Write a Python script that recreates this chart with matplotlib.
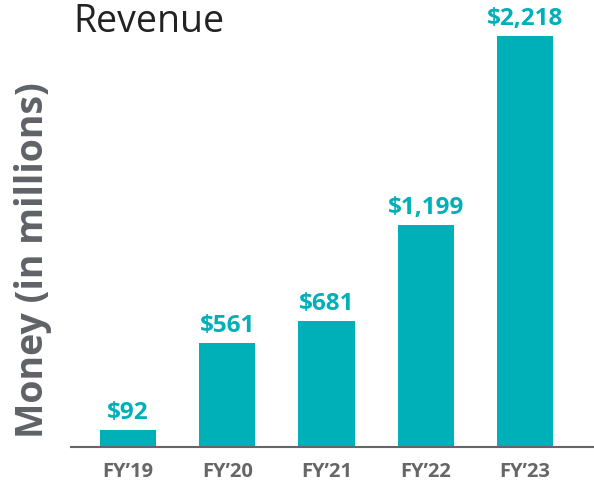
import matplotlib
matplotlib.use("Agg")
import matplotlib.pyplot as plt

categories = ["FY\u201919", "FY\u201920", "FY\u201921", "FY\u201922", "FY\u201923"]
revenue = [92, 561, 681, 1199, 2218]
value_labels = ["$92", "$561", "$681", "$1,199", "$2,218"]

teal = "#00B0B9"
gray = "#5f6367"

fig = plt.figure(figsize=(5.94, 4.84), dpi=100)
ax = fig.add_axes([71/594, 37/484, 1 - 71/594, 447/484])
x = list(range(len(categories)))
ax.bar(x, revenue, width=0.565, color=teal, zorder=2)
ax.set_xlim(-0.574, 4.695)
ax.set_ylim(0, 2218 * 447 / 411)
for xi, v, lab in zip(x, revenue, value_labels):
    ax.annotate(lab, (xi, v), xytext=(0, 3.5), textcoords="offset points",
                ha="center", va="bottom", fontsize=17.5, fontweight="bold",
                color=teal, family="Open Sans")
ax.set_xticks(x)
ax.set_xticklabels(categories, fontsize=14.5, fontweight="bold", color="#666666", family="Open Sans")
ax.tick_params(axis="x", length=0, pad=11)
ax.set_yticks([])
for s in ["top", "right", "left"]:
    ax.spines[s].set_visible(False)
ax.spines["bottom"].set_color("#666666")
ax.spines["bottom"].set_linewidth(1.5)

fig.text(73/594, 1 - 22/484, "Revenue", fontsize=27, color="#222222", family="Open Sans",
         ha="left", va="center")
fig.text(33/594, 1 - 260/484, "Money (in millions)", fontsize=27, fontweight="bold",
         color=gray, family="Open Sans", rotation=90, ha="center", va="center")

fig.savefig("out.png", dpi=100)
